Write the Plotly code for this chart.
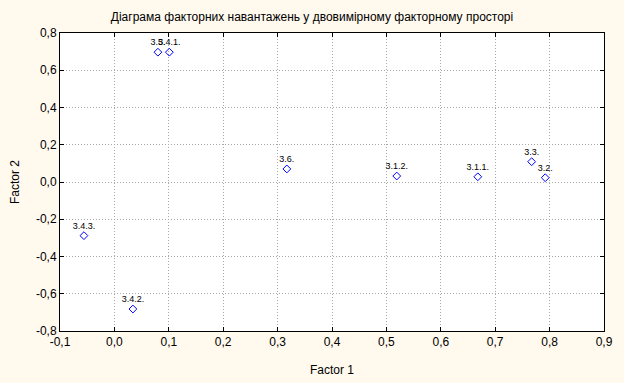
import plotly.graph_objects as go

labels = ["3.5.", "3.4.1.", "3.6.", "3.1.2.", "3.1.1.", "3.3.", "3.2.", "3.4.3.", "3.4.2."]
factor1 = [0.080, 0.101, 0.317, 0.519, 0.668, 0.767, 0.792, -0.056, 0.034]
factor2 = [0.697, 0.697, 0.070, 0.032, 0.028, 0.109, 0.023, -0.288, -0.682]

x_ticks = [-0.1, 0.0, 0.1, 0.2, 0.3, 0.4, 0.5, 0.6, 0.7, 0.8, 0.9]
x_tick_text = ["-0,1", "0,0", "0,1", "0,2", "0,3", "0,4", "0,5", "0,6", "0,7", "0,8", "0,9"]
y_ticks = [-0.8, -0.6, -0.4, -0.2, 0.0, 0.2, 0.4, 0.6, 0.8]
y_tick_text = ["-0,8", "-0,6", "-0,4", "-0,2", "0,0", "0,2", "0,4", "0,6", "0,8"]

fig = go.Figure()
fig.add_trace(go.Scatter(
    x=factor1, y=factor2, mode="markers+text", text=labels,
    textposition="top center",
    textfont=dict(family="Liberation Sans, Arial", size=9, color="black"),
    marker=dict(symbol="diamond-open", size=6, color="#0000FF", line=dict(width=1, color="#0000FF")),
    cliponaxis=False, showlegend=False,
))

fig.update_layout(
    width=624, height=383,
    paper_bgcolor="#FFF9EE", plot_bgcolor="white",
    margin=dict(l=60, r=20, t=33, b=52, autoexpand=False),
    font=dict(family="Liberation Sans, Arial", size=12, color="black"),
    title=dict(text="Діаграма факторних навантажень у двовимірному факторному просторі",
               x=0.5, xanchor="center", y=1 - 17 / 383, yanchor="middle",
               font=dict(size=12)),
)
axis_common = dict(showline=True, linecolor="black", linewidth=1, mirror="ticks",
                   ticks="inside", ticklen=4, tickcolor="black",
                   showgrid=True, gridcolor="#A8A8A8", griddash="1px,2px", gridwidth=1,
                   zeroline=False, tickfont=dict(size=12), automargin=False)
fig.update_xaxes(range=[-0.1, 0.9], tickvals=x_ticks, ticktext=x_tick_text,
                 title=dict(text="Factor 1", standoff=17, font=dict(size=12)), **axis_common)
fig.update_yaxes(range=[-0.8, 0.8], tickvals=y_ticks, ticktext=y_tick_text,
                 title=dict(text="Factor 2", standoff=13, font=dict(size=12)), **axis_common)

fig.write_html("out.html", config={"displayModeBar": False},
               post_script="document.body.style.margin='0';document.body.style.padding='0';")
